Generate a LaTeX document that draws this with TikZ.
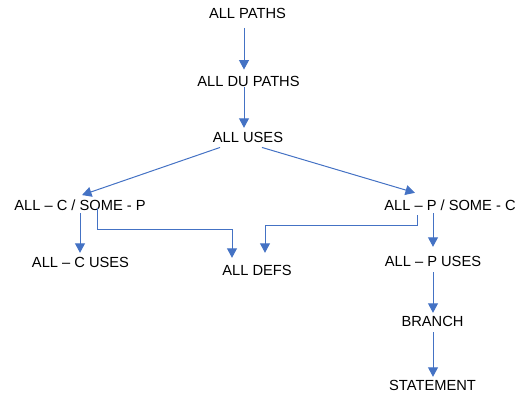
\documentclass[tikz,border=0pt]{standalone}
\usepackage{fontspec}
\setmainfont{Liberation Sans}
\usetikzlibrary{arrows.meta,calc}
\definecolor{linkblue}{HTML}{4472C4}
\tikzset{
  lbl/.style={font=\fontsize{14.67}{16}\selectfont, text=black, inner sep=0pt,
              text height=10.5pt, text depth=0pt},
  link/.style={draw=linkblue, line width=1pt,
               -{Triangle[width=10pt,length=9.5pt]}, fill=none}
}
\begin{document}
\begin{tikzpicture}[x=1pt,y=-1pt]
  \useasboundingbox (0,0) rectangle (519,394);

  % criteria
  \node[lbl] (allpaths)  at (247.5,13.5) {ALL PATHS};
  \node[lbl] (alldu)     at (248.5,81)   {ALL DU PATHS};
  \node[lbl] (alluses)   at (248,137)    {ALL USES};
  \node[lbl] (acsp)      at (80,205.5)   {ALL – C / SOME - P};
  \node[lbl] (apsc)      at (450,205)    {ALL – P / SOME - C};
  \node[lbl] (acuses)    at (80.5,262.5) {ALL – C USES};
  \node[lbl] (alldefs)   at (257,270.5)  {ALL DEFS};
  \node[lbl] (apuses)    at (433,261)    {ALL – P USES};
  \node[lbl] (branch)    at (432.5,321.5){BRANCH};
  \node[lbl] (statement) at (432.5,385)  {STATEMENT};

  % subsumption links
  \draw[link] ($(allpaths.south)+(-3.5,9)$) -- ($(alldu.north)+(-4.5,-6)$);
  \draw[link] ($(alldu.south)+(-4.5,0.75)$) -- ($(alluses.north)+(-4,-3.75)$);
  \draw[link] ($(alluses.south)+(-28,5)$) -- ($(acsp.north)+(2,-5)$);
  \draw[link] ($(alluses.south)+(14,5)$) -- ($(apsc.north)+(-35,-6.75)$);
  \draw[link] ($(acsp.south)+(0,2.25)$) -- ($(acuses.north)+(-0.5,-4.25)$);
  \draw[link] ($(acsp.center)+(17,2.5)$) |- ($(alldefs.north)+(-25,-35.25)$)
              -- ($(alldefs.north)+(-25,-7.25)$);
  \draw[link] ($(apsc.south)+(-33,4.75)$) |- ($(alldefs.north)+(8,-39.25)$)
              -- ($(alldefs.north)+(8,-12.25)$);
  \draw[link] ($(apsc.south)+(-17,2.75)$) -- ($(apuses.north)+(0,-8.75)$);
  \draw[link] ($(apuses.south)+(0,5.75)$) -- ($(branch.north)+(0.5,-3.25)$);
  \draw[link] ($(branch.south)+(0.5,5.25)$) -- ($(statement.north)+(0.5,-2.75)$);
\end{tikzpicture}
\end{document}
